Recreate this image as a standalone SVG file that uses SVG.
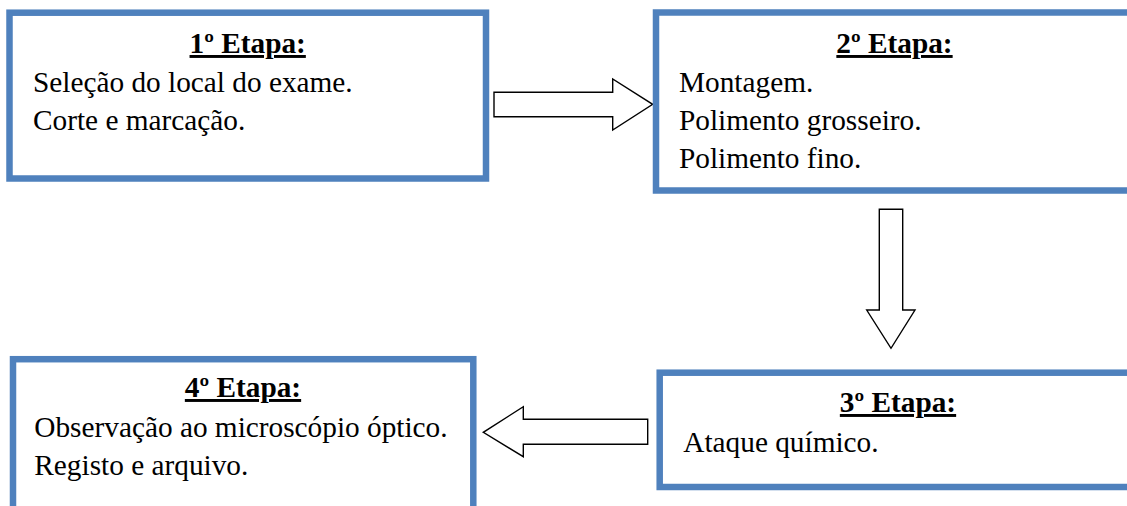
<svg xmlns="http://www.w3.org/2000/svg" width="1127" height="506" viewBox="0 0 1127 506">
  <style>
    .box { fill: #ffffff; stroke: #4F81BD; stroke-width: 6.5; }
    .arrow { fill: #ffffff; stroke: #000000; stroke-width: 1.4; stroke-linejoin: miter; }
    text { font-family: 'Liberation Serif', 'Times New Roman', Times, 'DejaVu Serif', serif; font-size: 29.3px; fill: #000; }
    .title { font-weight: bold; text-anchor: middle; text-decoration: underline; }
  </style>
  <rect width="1127" height="506" fill="#ffffff"/>
  <g id="connectors">
    <polygon class="arrow" points="494,92.3 612.7,92.3 612.7,79 652.7,104.3 612.7,130 612.7,116.7 494,116.7"/>
    <polygon class="arrow" points="879.3,209.3 902.7,209.3 902.7,310 915,310 891,348.3 866.7,310 879.3,310"/>
    <polygon class="arrow" points="647.7,419.3 523.3,419.3 523.3,406.7 483.3,432.3 523.3,456.7 523.3,444.3 647.7,444.3"/>
  </g>
  <g id="etapa1">
    <rect class="box" x="9.5" y="12.7" width="476.5" height="165.8"/>
    <text class="title" x="247.7" y="53" font-family="Liberation Serif, serif">1º Etapa:</text>
    <text x="33" y="92" font-family="Liberation Serif, serif">Seleção do local do exame.</text>
    <text x="33" y="130" font-family="Liberation Serif, serif">Corte e marcação.</text>
  </g>
  <g id="etapa2">
    <rect class="box" x="656" y="12.5" width="477" height="178"/>
    <text class="title" x="894.5" y="53" font-family="Liberation Serif, serif">2º Etapa:</text>
    <text x="679" y="92" font-family="Liberation Serif, serif">Montagem.</text>
    <text x="679" y="130" font-family="Liberation Serif, serif">Polimento grosseiro.</text>
    <text x="679" y="168" font-family="Liberation Serif, serif">Polimento fino.</text>
  </g>
  <g id="etapa3">
    <rect class="box" x="659.7" y="372.7" width="477" height="114.3"/>
    <text class="title" x="898" y="412" font-family="Liberation Serif, serif">3º Etapa:</text>
    <text x="683.3" y="452" font-family="Liberation Serif, serif">Ataque químico.</text>
  </g>
  <g id="etapa4">
    <rect class="box" x="13" y="359.2" width="460.3" height="160"/>
    <text class="title" x="243" y="397" font-family="Liberation Serif, serif">4º Etapa:</text>
    <text x="34.3" y="437" font-family="Liberation Serif, serif">Observação ao microscópio óptico.</text>
    <text x="34.3" y="475" font-family="Liberation Serif, serif">Registo e arquivo.</text>
  </g>
</svg>
